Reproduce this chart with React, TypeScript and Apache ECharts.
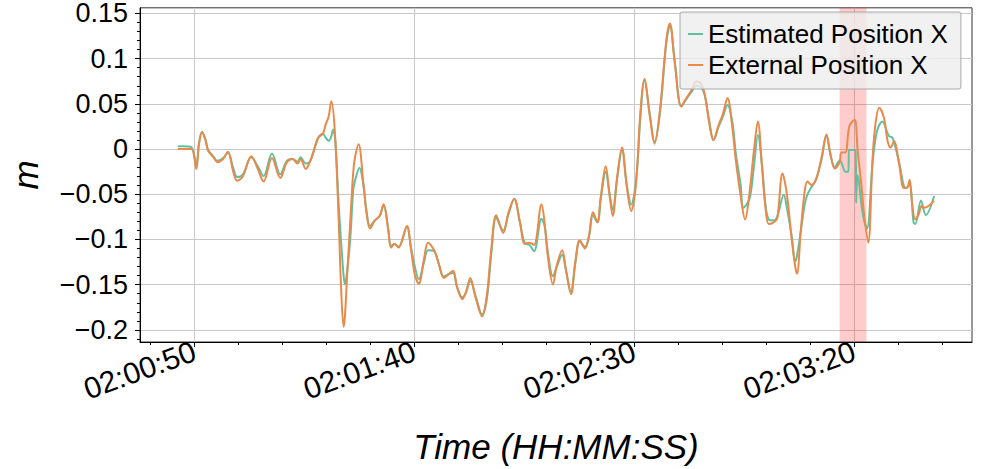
import React, { useEffect, useRef } from "react";
import * as echarts from "echarts";

// Time values are seconds after 02:00:00
const extTime = [
  46.2, 47.5, 49.3, 50.4, 51.0, 51.7, 52.5, 53.1, 54.3, 55.2,
  56.5, 57.6, 58.8, 59.7, 61.0, 62.9, 64.4, 65.7, 67.6, 69.5,
  71.0, 72.3, 73.4, 74.1, 75.3, 76.2, 77.1, 78.1, 79.2, 79.8,
  80.5, 81.1, 81.9, 82.8, 83.3, 83.9, 84.2, 84.7, 85.4, 86.1,
  86.5, 87.3, 88.4, 89.1, 89.9, 91.0, 92.1, 93.0, 94.0, 94.7,
  95.5, 96.4, 98.3, 99.2, 100.1, 101.0, 102.2, 103.1, 104.5, 105.6,
  106.7, 107.9, 108.8, 109.7, 110.9, 111.8, 112.7, 113.9, 115.4, 116.5,
  117.5, 118.6, 120.2, 121.4, 122.7, 124.0, 125.1, 126.2, 127.2, 128.9,
  129.6, 130.3, 131.5, 132.4, 133.6, 134.5, 135.6, 136.6, 137.6, 138.8,
  139.7, 140.6, 141.6, 142.4, 143.5, 144.4, 145.1, 146.1, 147.2, 148.3,
  149.3, 150.4, 151.4, 152.3, 153.6, 154.6, 155.8, 157.3, 158.1, 159.2,
  160.7, 161.8, 163.0, 164.1, 165.2, 166.0, 167.1, 168.0, 169.2, 170.1,
  171.2, 172.3, 173.1, 174.2, 175.2, 176.2, 177.2, 178.1, 179.1, 179.8,
  180.6, 181.7, 182.5, 183.7, 184.7, 185.8, 186.6, 187.0, 187.9, 188.8,
  189.4, 190.3, 191.4, 192.6, 193.7, 194.6, 195.6, 196.7, 197.1, 198.0,
  198.9, 200.1, 200.8, 201.6, 202.3, 203.2, 204.2, 204.9, 205.7, 206.8,
  207.6, 208.3, 209.1, 210.2, 211.3, 212.0, 212.6, 213.2, 213.9, 214.7,
  215.3, 215.8, 216.9, 218.2,
];
const extValue = [
  0.0, 0.0, 0.0, -0.022, 0.005, 0.019, 0.01, -0.002, -0.009, -0.0145,
  -0.011, -0.003, -0.025, -0.035, -0.03, -0.008, -0.022, -0.036, -0.01, -0.032,
  -0.0145, -0.011, -0.016, -0.011, -0.022, -0.0145, -0.002, 0.0126, 0.017, 0.027,
  0.036, 0.053, 0.02, -0.081, -0.15, -0.1966, -0.185, -0.14, -0.081, -0.025,
  -0.009, 0.0054, -0.038, -0.07, -0.088, -0.079, -0.074, -0.061, -0.088, -0.109,
  -0.105, -0.109, -0.085, -0.11, -0.139, -0.149, -0.121, -0.1036, -0.112, -0.128,
  -0.1426, -0.138, -0.1346, -0.153, -0.166, -0.157, -0.1426, -0.164, -0.185, -0.1606,
  -0.11, -0.0733, -0.0928, -0.07, -0.0552, -0.081, -0.1046, -0.1036, -0.106, -0.061,
  -0.081, -0.117, -0.1497, -0.128, -0.112, -0.135, -0.1606, -0.1245, -0.101, -0.11,
  -0.0957, -0.07, -0.081, -0.052, -0.019, -0.052, -0.074, -0.031, 0.0017, -0.0416,
  -0.0686, -0.038, 0.0414, 0.0775, 0.034, 0.006, 0.0414, 0.121, 0.139, 0.0956,
  0.047, 0.056, 0.065, 0.0747, 0.072, 0.061, 0.027, 0.0097, 0.027, 0.038,
  0.0566, 0.0234, -0.0127, -0.052, -0.078, -0.0487, -0.002, 0.0306, -0.0235, -0.063,
  -0.083, -0.081, -0.077, -0.027, -0.05, -0.1, -0.13, -0.138, -0.088, -0.045,
  -0.036, -0.04, -0.0325, -0.009, 0.0162, -0.0054, -0.0217, -0.0145, -0.0037, -0.0037,
  0.025, 0.0325, -0.002, -0.038, -0.074, -0.1036, -0.009, 0.03, 0.0458, 0.034,
  0.009, 0.0017, 0.009, -0.016, -0.043, -0.043, -0.034, -0.061, -0.0776, -0.072,
  -0.063, -0.065, -0.063, -0.057,
];

const estTime = [
  46.2, 47.5, 49.3, 50.4, 51.0, 51.7, 52.5, 53.1, 54.3, 55.2,
  56.5, 57.6, 58.8, 59.7, 61.0, 62.9, 64.4, 65.7, 67.6, 69.5,
  71.0, 72.3, 73.4, 74.1, 75.3, 76.2, 77.1, 78.1, 79.2, 79.8,
  80.5, 81.1, 81.5, 82.0, 82.8, 83.3, 83.9, 84.2, 84.7, 85.4,
  86.1, 86.5, 87.5, 88.4, 89.1, 89.9, 91.0, 92.1, 93.0, 94.0,
  94.7, 95.5, 96.4, 98.3, 99.2, 100.1, 101.0, 102.2, 103.1, 104.5,
  105.6, 106.7, 107.9, 108.8, 109.7, 110.9, 111.8, 112.7, 113.9, 115.4,
  116.5, 117.5, 118.6, 120.2, 121.4, 122.7, 124.0, 125.1, 126.2, 127.2,
  128.9, 129.6, 130.3, 131.5, 132.4, 133.6, 134.5, 135.6, 136.6, 137.6,
  138.8, 139.7, 140.6, 141.6, 142.4, 143.5, 144.4, 145.1, 146.1, 147.2,
  148.3, 149.3, 150.4, 151.4, 152.3, 153.6, 154.6, 155.8, 157.3, 158.1,
  159.2, 160.7, 161.8, 163.0, 164.1, 165.2, 166.0, 167.1, 168.0, 169.2,
  170.1, 171.2, 172.3, 173.1, 174.2, 174.8, 176.2, 177.2, 178.1, 179.1,
  179.8, 180.6, 181.7, 182.5, 184.0, 184.7, 185.8, 186.6, 187.0, 187.9,
  188.8, 189.4, 190.3, 191.4, 192.6, 193.7, 194.6, 195.6, 196.7, 197.1,
  198.0, 198.7, 198.8, 200.4, 200.45, 200.8, 201.9, 202.9, 204.2, 205.2,
  206.4, 207.9, 208.7, 210.2, 211.7, 212.6, 213.5, 213.9, 215.2, 216.3,
  218.2,
];
const estValue = [
  0.003, 0.003, 0.002, -0.018, 0.006, 0.019, 0.01, -0.001, -0.008, -0.013,
  -0.01, -0.004, -0.021, -0.031, -0.028, -0.009, -0.019, -0.03, -0.005, -0.028,
  -0.013, -0.011, -0.014, -0.009, -0.016, -0.014, -0.003, 0.012, 0.017, 0.013,
  0.009, 0.014, 0.0216, 0.01, -0.063, -0.1, -0.14, -0.1497, -0.135, -0.1,
  -0.045, -0.035, -0.0206, -0.04, -0.068, -0.085, -0.079, -0.074, -0.062, -0.086,
  -0.107, -0.105, -0.108, -0.086, -0.108, -0.13, -0.144, -0.125, -0.112, -0.113,
  -0.128, -0.141, -0.138, -0.137, -0.152, -0.164, -0.158, -0.146, -0.162, -0.183,
  -0.165, -0.115, -0.076, -0.09, -0.072, -0.055, -0.081, -0.104, -0.106, -0.113,
  -0.077, -0.085, -0.112, -0.1407, -0.13, -0.117, -0.135, -0.158, -0.126, -0.102,
  -0.108, -0.097, -0.073, -0.081, -0.055, -0.025, -0.05, -0.067, -0.033, -0.001,
  -0.04, -0.0614, -0.035, 0.035, 0.076, 0.036, 0.008, 0.038, 0.118, 0.137,
  0.097, 0.047, 0.055, 0.063, 0.07, 0.068, 0.06, 0.03, 0.01, 0.025,
  0.035, 0.0487, 0.03, -0.005, -0.04, -0.065, -0.055, -0.02, 0.0155, -0.02,
  -0.06, -0.078, -0.079, -0.075, -0.0505, -0.065, -0.096, -0.1245, -0.118, -0.09,
  -0.06, -0.05, -0.042, -0.033, -0.011, 0.015, -0.006, -0.02, -0.013, -0.0145,
  -0.025, -0.025, -0.001, -0.001, -0.0595, -0.029, -0.07, -0.088, -0.015, 0.02,
  0.0306, 0.0144, 0.0126, -0.014, -0.043, -0.04, -0.081, -0.083, -0.057, -0.073,
  -0.052,
];

const seriesNames = ["Estimated Position X", "External Position X"];
const xTickValues = [50, 100, 150, 200];
const yTickValues = [-0.2, -0.15, -0.1, -0.05, 0, 0.05, 0.1, 0.15];
const highlightSpan = [196.7, 202.8];
const X_MIN = 37.6;
const X_MAX = 226.8;
const Y_MIN = -0.2134;
const Y_MAX = 0.1562;

const xMinorTicks: number[] = [];
for (let s = 40; s <= 220; s += 10) xMinorTicks.push(s);
const yMinorTicks: number[] = [];
for (let i = -21; i <= 15; i++) yMinorTicks.push(i / 100);

const FONT = "Liberation Sans, Arial, Helvetica, sans-serif";

function pad2(n: number) {
  return (n < 10 ? "0" : "") + n;
}
function fmtTime(v: number) {
  const total = Math.round(v) + 2 * 3600;
  const h = Math.floor(total / 3600);
  const m = Math.floor((total % 3600) / 60);
  const s = total % 60;
  return pad2(h) + ":" + pad2(m) + ":" + pad2(s);
}
function fmtY(v: number) {
  const r = Math.round(v * 1000) / 1000;
  return String(r).replace("-", "\u2212");
}

function pairs(t: number[], v: number[]) {
  const n = Math.min(t.length, v.length);
  const out: number[][] = [];
  for (let i = 0; i < n; i++) out.push([t[i], v[i]]);
  return out;
}

export default function App() {
  const ref = useRef<HTMLDivElement>(null);
  useEffect(() => {
    if (!ref.current) return;
    const chart = echarts.init(ref.current, undefined, { renderer: "svg" });
    const option: any = {
      animation: false,
      textStyle: { fontFamily: FONT },
      grid: {
        left: 131,
        right: 24,
        top: 4,
        bottom: 123,
        show: true,
        borderColor: "#333",
        borderWidth: 1,
      },
      legend: {
        data: seriesNames,
        orient: "vertical",
        left: 680,
        top: 12,
        padding: [7, 13, 9, 8],
        itemGap: 1,
        itemWidth: 15,
        itemHeight: 2,
        icon: "rect",
        backgroundColor: "rgba(238,238,238,0.8)",
        borderColor: "#a8a8a8",
        borderWidth: 1,
        borderRadius: 2,
        textStyle: { fontSize: 26, color: "#000", fontFamily: FONT, lineHeight: 30 },
      },
      xAxis: [
        {
          type: "value",
          min: X_MIN,
          max: X_MAX,
          position: "bottom",
          axisLine: { show: true, onZero: false, lineStyle: { color: "#000", width: 1 } },
          axisTick: { show: true, length: 5, customValues: xTickValues, lineStyle: { color: "#000" } },
          axisLabel: {
            show: true,
            customValues: xTickValues,
            formatter: (v: number) => fmtTime(v),
            rotate: 20,
            fontSize: 30,
            lineHeight: 22,
            color: "#000",
            margin: 8,
            fontFamily: FONT,
          },
          splitLine: { show: true, lineStyle: { color: "#c8c8c8", width: 1 } },
          name: "Time (HH:MM:SS)",
          nameLocation: "middle",
          nameGap: 87,
          nameTextStyle: { fontSize: 35, fontStyle: "italic", color: "#000", fontFamily: FONT },
        },
        {
          type: "value",
          min: X_MIN,
          max: X_MAX,
          position: "bottom",
          axisLine: { show: false, onZero: false },
          axisTick: { show: true, length: 3, customValues: xMinorTicks, lineStyle: { color: "#000" } },
          axisLabel: { show: false },
          splitLine: { show: false },
        },
      ],
      yAxis: [
        {
          type: "value",
          min: Y_MIN,
          max: Y_MAX,
          position: "left",
          axisLine: { show: true, onZero: false, lineStyle: { color: "#000", width: 1 } },
          axisTick: { show: true, length: 5, customValues: yTickValues, lineStyle: { color: "#000" } },
          axisLabel: {
            show: true,
            customValues: yTickValues,
            formatter: (v: number) => fmtY(v),
            fontSize: 27,
            lineHeight: 20,
            color: "#000",
            margin: 12,
            fontFamily: FONT,
          },
          splitLine: { show: true, lineStyle: { color: "#c8c8c8", width: 1 } },
          name: "m",
          nameLocation: "middle",
          nameGap: 97,
          nameTextStyle: { fontSize: 35, fontStyle: "italic", color: "#000", fontFamily: FONT },
        },
        {
          type: "value",
          min: Y_MIN,
          max: Y_MAX,
          position: "left",
          axisLine: { show: false, onZero: false },
          axisTick: { show: true, length: 3, customValues: yMinorTicks, lineStyle: { color: "#000" } },
          axisLabel: { show: false },
          splitLine: { show: false },
        },
      ],
      series: [
        {
          name: seriesNames[0],
          type: "line",
          data: pairs(estTime, estValue),
          showSymbol: false,
          smooth: 0.35,
          lineStyle: { color: "#62c09f", width: 2 },
          itemStyle: { color: "#62c09f" },
          z: 2,
        },
        {
          name: seriesNames[1],
          type: "line",
          data: pairs(extTime, extValue),
          showSymbol: false,
          smooth: 0.35,
          lineStyle: { color: "#e9894a", width: 2 },
          itemStyle: { color: "#e9894a" },
          z: 3,
        },
        {
          name: "span",
          type: "line",
          data: [],
          z: 4,
          silent: true,
          markArea: {
            silent: true,
            itemStyle: { color: "rgba(255,0,0,0.2)" },
            data: [[{ xAxis: highlightSpan[0] }, { xAxis: highlightSpan[1] }]],
          },
        },
      ],
    };
    chart.setOption(option);
    return () => chart.dispose();
  }, []);
  return (
    <div
      ref={ref}
      style={{ position: "fixed", left: 0, top: 0, width: 996, height: 469, background: "#fff" }}
    />
  );
}
